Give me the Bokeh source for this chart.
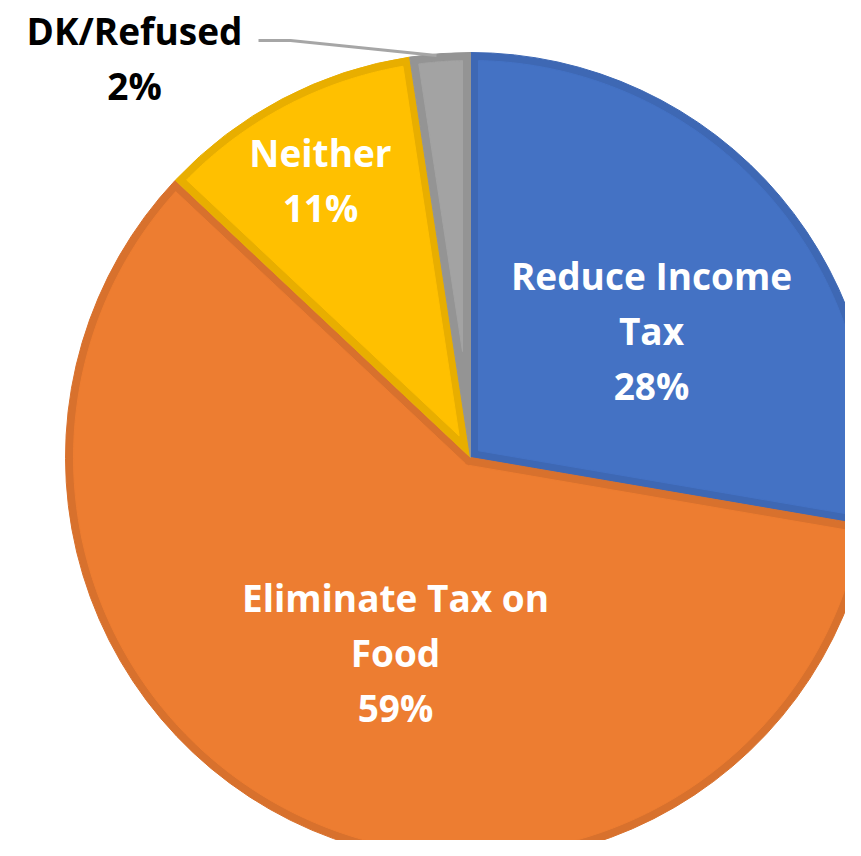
import math
from bokeh.plotting import figure
from bokeh.models import Range1d
from bokeh.core.properties import value
from bokeh.embed import file_html
from bokeh.resources import INLINE

# ---- data ----
categories = ["Reduce Income Tax", "Eliminate Tax on Food", "Neither", "DK/Refused"]
shares = [27.7, 59.3, 10.6, 2.4]          # slice sizes
pct_labels = ["28%", "59%", "11%", "2%"]  # printed percentages
fill_colors = ["#4472C4", "#ED7D31", "#FFC000", "#A3A3A3"]
band_colors = ["#3E68B4", "#D8712D", "#E8AE00", "#949494"]

# ---- layout (pixel coordinates of the picture) ----
W, H = 845, 840
def sy(y):  # picture y -> data y
    return H - y

CX, CY = 470, sy(457)
R = 405
BAND = 8

label_lines = [
    ["Reduce Income", "Tax", pct_labels[0]],
    ["Eliminate Tax on", "Food", pct_labels[1]],
    ["Neither", pct_labels[2]],
    ["DK/Refused", pct_labels[3]],
]
label_x = [651, 395, 320, 134]
label_y0 = [275, 597, 152, 30]
line_gap = 55
label_colors = ["white", "white", "white", "black"]

leader_x = [258, 290, 436]
leader_y = [40, 40, 55]

p = figure(width=W, height=H, output_backend="svg", toolbar_location=None,
           x_range=Range1d(0, W), y_range=Range1d(0, H),
           min_border=0, outline_line_color=None)
p.axis.visible = False
p.grid.visible = False
p.background_fill_color = "white"
p.border_fill_color = "white"

total = sum(shares)
starts, ends = [], []
cum = 0.0
for s in shares:
    c0 = cum / total
    cum += s
    c1 = cum / total
    starts.append(math.radians(90 - 360 * c1))
    ends.append(math.radians(90 - 360 * c0))

# outer (darker band) wedges
p.wedge(x=[CX] * 4, y=[CY] * 4, radius=R, start_angle=starts, end_angle=ends,
        fill_color=band_colors, line_color=band_colors, line_width=1)

# inner lighter patches (inset by BAND)
xs, ys = [], []
for a, b in zip(starts, ends):
    theta = b - a
    ri = R - BAND
    dl = math.asin(BAND / ri)
    n = 120
    px, py = [], []
    for k in range(n + 1):
        t = (a + dl) + (b - a - 2 * dl) * k / n
        px.append(CX + ri * math.cos(t))
        py.append(CY + ri * math.sin(t))
    if theta < math.pi:
        dist = BAND / math.sin(theta / 2)
        mid = (a + b) / 2
        px.append(CX + dist * math.cos(mid))
        py.append(CY + dist * math.sin(mid))
    else:
        t0 = b - math.pi / 2
        t1 = a + math.pi / 2
        for k in range(31):
            t = t0 + (t1 - t0) * k / 30
            px.append(CX + BAND * math.cos(t))
            py.append(CY + BAND * math.sin(t))
    xs.append(px)
    ys.append(py)

p.patches(xs=xs, ys=ys, fill_color=fill_colors, line_color=fill_colors, line_width=1)

# leader line for DK/Refused
p.line(x=leader_x, y=[sy(v) for v in leader_y], line_color="#A6A6A6", line_width=3)

# labels
for lines, lx, ly0, col in zip(label_lines, label_x, label_y0, label_colors):
    ys_ = [sy(ly0 + i * line_gap) for i in range(len(lines))]
    p.text(x=[lx] * len(lines), y=ys_, text=lines, text_color=col,
           text_font=value("Open Sans"), text_font_style="bold", text_font_size="37px",
           text_align="center", text_baseline="middle")

open("out.html", "w").write(file_html(p, INLINE))
